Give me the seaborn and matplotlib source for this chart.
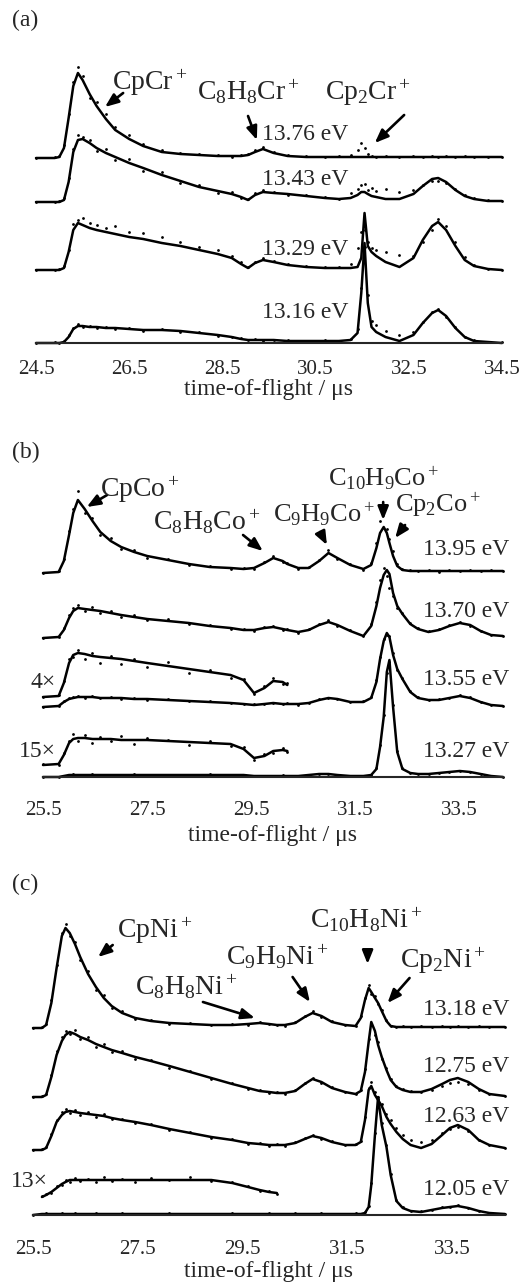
import numpy as np
import pandas as pd
import matplotlib
matplotlib.use("Agg")
import matplotlib.pyplot as plt
import seaborn as sns

W, H = 526, 1283

# ---------------------------------
# DATA: time-of-flight knots (us) and ion signal heights (arb. units)
# ---------------------------------
# panel (a) Cr
ta = [24.5, 24.9, 25.0, 25.1, 25.2, 25.3, 25.4, 25.5, 25.65, 25.8,
      26.0, 26.2, 26.5, 26.8, 27.2, 27.6, 28.0, 28.4, 28.7, 28.9,
      29.05, 29.2, 29.37, 29.6, 29.9, 30.3, 30.7, 31.0, 31.25, 31.4,
      31.48, 31.55, 31.62, 31.7, 31.8, 32.0, 32.3, 32.6, 32.8, 33.0,
      33.13, 33.3, 33.5, 33.7, 33.9, 34.2, 34.5]
fit_a1376 = [0, 0, 1, 10, 40, 72, 85, 78, 64, 52,
             39, 28, 19, 12, 6, 4, 3, 2, 2, 2,
             3, 6, 9, 5, 2, 1, 1, 1, 1, 1,
             1, 1, 1, 1, 1, 1, 1, 1, 1, 1,
             1, 1, 1, 1, 1, 1, 1]
obs_a1376 = [0, 1, 2, 13, 44, 76, 91, 82, 60, 56,
             44, 31, 23, 14, 8, 5, 4, 3, 1, 3,
             4, 8, 11, 6, 3, 2, 1, 2, 3, 8,
             15, 10, 4, 2, 1, 2, 1, 2, 1, 2,
             1, 2, 1, 2, 1, 1, 1]
fit_a1343 = [0, 0, 0, 2, 20, 50, 62, 63, 59, 54,
             49, 45, 39, 34, 27, 21, 15, 11, 8, 5,
             2, 7, 10, 9, 8, 6, 4, 3, 4, 7,
             10, 10, 8, 6, 5, 3, 3, 8, 16, 23,
             24, 20, 12, 6, 3, 1, 1]
obs_a1343 = [0, 0, 1, 4, 24, 53, 67, 65, 62, 51,
             53, 42, 43, 31, 30, 19, 17, 9, 10, 4,
             3, 9, 12, 10, 7, 7, 5, 3, 9, 13,
             17, 18, 12, 14, 11, 13, 10, 12, 17, 21,
             21, 19, 13, 7, 4, 2, 1]
fit_a1329 = [0, 0, 0, 2, 18, 40, 47, 45, 42, 40,
             38, 36, 33, 31, 27, 24, 20, 16, 12, 6,
             2, 7, 10, 8, 5, 3, 2, 2, 2, 3,
             12, 57, 24, 18, 14, 8, 3, 12, 30, 44,
             48, 40, 24, 10, 4, 1, 0]
obs_a1329 = [0, 0, 1, 4, 20, 46, 50, 52, 47, 45,
             42, 44, 38, 37, 33, 28, 23, 20, 14, 8,
             3, 8, 12, 9, 6, 4, 3, 3, 6, 22,
             38, 40, 28, 22, 20, 18, 15, 14, 28, 40,
             51, 44, 28, 13, 5, 1, 0]
fit_a1316 = [0, 0, 0, 1, 6, 14, 17, 17, 16, 16,
             15, 15, 14, 13, 13, 12, 10, 8, 6, 4,
             3, 3, 3, 3, 2, 2, 2, 2, 3, 10,
             50, 100, 40, 16, 11, 6, 2, 8, 20, 30,
             33, 27, 15, 6, 2, 1, 0]
obs_a1316 = [0, 1, 0, 2, 8, 15, 19, 16, 17, 15,
             16, 14, 15, 12, 14, 11, 11, 7, 6, 5,
             3, 4, 2, 3, 3, 2, 3, 2, 4, 14,
             55, 96, 48, 22, 18, 12, 8, 11, 21, 31,
             34, 26, 16, 6, 3, 1, 1]

# panel (b) Co
tb = [25.5, 25.8, 25.9, 26.0, 26.08, 26.17, 26.3, 26.45, 26.6, 26.8,
      27.0, 27.25, 27.5, 27.9, 28.3, 28.7, 29.1, 29.35, 29.55, 29.75,
      29.92, 30.1, 30.19, 30.4, 30.6, 30.8, 30.98, 31.15, 31.4, 31.65,
      31.8, 31.9, 31.97, 32.04, 32.1, 32.15, 32.22, 32.3, 32.4, 32.55,
      32.7, 32.9, 33.1, 33.3, 33.5, 33.7, 33.9, 34.1, 34.33]
fit_b1395 = [0, 1, 12, 38, 60, 73, 64, 52, 41, 32,
             26, 21, 17, 13, 9, 6, 5, 4, 5, 10,
             15, 12, 9, 5, 5, 12, 20, 15, 8, 4,
             8, 25, 40, 46, 40, 30, 17, 7, 3, 2,
             2, 2, 2, 2, 2, 2, 2, 2, 2]
obs_b1395 = [0, 2, 14, 42, 64, 82, 60, 55, 38, 35,
             24, 23, 15, 14, 8, 7, 4, 5, 4, 11,
             17, 11, 10, 4, 6, 13, 23, 14, 9, 3,
             10, 30, 52, 63, 44, 34, 22, 9, 4, 3,
             2, 3, 1, 3, 2, 3, 2, 3, 2]
fit_b1370 = [0, 1, 8, 20, 27, 30, 29, 28, 27, 25,
             23, 21, 19, 17, 15, 12, 10, 8, 8, 10,
             11, 9, 8, 6, 8, 13, 16, 13, 7, 2,
             12, 32, 50, 63, 68, 64, 45, 32, 24, 14,
             9, 6, 8, 12, 15, 13, 7, 3, 2]
obs_b1370 = [0, 1, 10, 23, 30, 33, 27, 31, 25, 27,
             21, 23, 18, 19, 14, 13, 9, 9, 7, 11,
             12, 8, 9, 5, 9, 14, 18, 12, 8, 2,
             14, 36, 58, 70, 62, 50, 42, 30, 25, 15,
             10, 7, 9, 13, 16, 12, 7, 3, 2]
fit_b1355 = [0, 1, 5, 8, 9, 10, 10, 10, 9, 9,
             9, 8, 8, 7, 6, 5, 4, 3, 2, 3,
             4, 3, 3, 3, 4, 7, 9, 8, 5, 5,
             9, 25, 48, 66, 74, 70, 52, 38, 28, 15,
             9, 7, 7, 9, 11, 9, 5, 2, 1]
obs_b1355 = [0, 1, 6, 9, 10, 11, 9, 11, 9, 10,
             8, 9, 7, 8, 6, 6, 4, 3, 3, 3,
             4, 3, 4, 2, 4, 8, 9, 8, 5, 6,
             10, 27, 50, 68, 72, 71, 54, 37, 29, 16,
             10, 7, 8, 9, 12, 10, 5, 2, 1]
fit_b1327 = [0, 0, 1, 2, 2, 2, 2, 2, 2, 2,
             2, 2, 2, 2, 2, 2, 2, 2, 1, 1,
             1, 1, 1, 1, 2, 3, 3, 2, 1, 1,
             2, 8, 30, 60, 105, 117, 70, 25, 8, 4,
             3, 3, 4, 5, 6, 5, 3, 1, 0]
obs_b1327 = [0, 0, 1, 2, 3, 2, 2, 3, 2, 2,
             2, 3, 2, 2, 2, 3, 2, 2, 1, 1,
             1, 2, 1, 1, 2, 3, 3, 2, 1, 1,
             2, 9, 32, 62, 104, 115, 72, 26, 9, 4,
             3, 3, 4, 5, 6, 5, 3, 1, 0]
# magnified low-mass parts (first 23 knots of tb)
fit_b4x = [0, 1, 14, 34, 42, 44, 43, 41, 40, 39,
           38, 36, 34, 31, 28, 25, 22, 17, 4, 9,
           16, 15, 12]
obs_b4x = [0, 2, 16, 38, 40, 47, 38, 44, 34, 41,
           33, 38, 30, 35, 24, 27, 19, 18, 3, 11,
           19, 13, 14]
fit_b15x = [0, 1, 10, 22, 26, 27, 27, 26, 26, 26,
            25, 25, 25, 24, 23, 22, 21, 16, 7, 9,
            14, 15, 14]
obs_b15x = [1, 0, 12, 24, 31, 24, 30, 22, 28, 24,
            29, 21, 27, 25, 20, 24, 19, 18, 5, 11,
            12, 17, 13]

# panel (c) Ni
tc = [25.5, 25.67, 25.75, 25.85, 25.95, 26.05, 26.12, 26.2, 26.3, 26.4,
      26.55, 26.7, 26.85, 27.0, 27.2, 27.45, 27.75, 28.1, 28.5, 28.9,
      29.3, 29.6, 29.82, 30.0, 30.15, 30.3, 30.5, 30.68, 30.83, 31.0,
      31.2, 31.45, 31.65, 31.75, 31.83, 31.9, 31.95, 32.02, 32.08, 32.15,
      32.24, 32.32, 32.43, 32.55, 32.7, 32.9, 33.1, 33.3, 33.45, 33.6,
      33.8, 34.0, 34.2, 34.5]
fit_c1318 = [0, 0, 3, 25, 60, 92, 100, 95, 84, 71,
             54, 41, 30, 22, 15, 10, 7, 5, 4, 3,
             3, 4, 5, 4, 3, 3, 5, 11, 15, 12,
             6, 3, 2, 10, 28, 40, 36, 30, 25, 17,
             7, 2, 1, 1, 1, 1, 1, 1, 1, 1,
             1, 1, 1, 1]
obs_c1318 = [0, 1, 4, 28, 63, 95, 104, 92, 86, 68,
             57, 38, 33, 20, 17, 9, 8, 4, 5, 3,
             4, 3, 6, 4, 3, 2, 6, 12, 17, 11,
             7, 3, 2, 12, 30, 43, 34, 32, 24, 18,
             8, 2, 1, 2, 1, 2, 1, 2, 1, 2,
             1, 2, 1, 1]
fit_c1275 = [0, 0, 2, 20, 42, 56, 62, 65, 63, 60,
             57, 53, 50, 47, 44, 40, 36, 31, 25, 19,
             13, 9, 6, 5, 4, 4, 6, 13, 18, 15,
             9, 5, 3, 6, 25, 55, 75, 66, 52, 40,
             27, 17, 10, 7, 5, 5, 8, 13, 17, 19,
             15, 8, 3, 1]
obs_c1275 = [0, 1, 3, 22, 46, 60, 66, 63, 67, 58,
             60, 50, 53, 45, 46, 38, 37, 29, 26, 18,
             14, 8, 7, 4, 5, 3, 7, 14, 19, 14,
             10, 5, 3, 7, 28, 58, 73, 62, 55, 38,
             29, 18, 11, 8, 6, 5, 7, 11, 14, 15,
             13, 7, 3, 1]
fit_c1263 = [0, 0, 2, 14, 28, 35, 38, 39, 38, 37,
             36, 35, 34, 32, 30, 28, 25, 21, 17, 13,
             10, 7, 6, 5, 5, 5, 7, 11, 14, 12,
             8, 5, 5, 8, 30, 60, 64, 55, 50, 44,
             33, 26, 18, 11, 5, 2, 6, 15, 22, 25,
             20, 10, 5, 2]
obs_c1263 = [0, 1, 3, 16, 30, 38, 41, 37, 40, 35,
             38, 33, 36, 31, 31, 27, 26, 20, 18, 12,
             11, 6, 7, 4, 6, 4, 8, 12, 15, 11,
             9, 5, 6, 9, 33, 62, 68, 58, 53, 46,
             36, 30, 22, 15, 10, 8, 10, 17, 21, 23,
             19, 10, 5, 2]
fit_c1205 = [0, 1, 1, 1, 1, 1, 1, 1, 1, 1,
             1, 1, 1, 1, 1, 1, 1, 1, 1, 1,
             1, 1, 1, 1, 1, 1, 1, 1, 1, 1,
             1, 1, 1, 1, 2, 8, 30, 80, 118, 90,
             68, 40, 14, 7, 4, 3, 5, 7, 8, 9,
             7, 4, 2, 1]
obs_c1205 = [0, 1, 2, 1, 1, 2, 1, 1, 2, 1,
             1, 2, 1, 1, 2, 1, 1, 2, 1, 1,
             2, 1, 1, 2, 1, 1, 2, 1, 1, 2,
             1, 1, 2, 1, 3, 9, 32, 82, 116, 92,
             70, 41, 15, 8, 4, 4, 5, 8, 8, 10,
             7, 4, 2, 1]
# magnified part, knots tc[1:25]
fit_c13x = [0, 2, 5, 9, 13, 15, 17, 17, 17, 17,
            17, 17, 17, 17, 17, 17, 17, 17, 17, 14,
            10, 7, 5, 4]
obs_c13x = [1, 3, 4, 11, 12, 17, 15, 19, 16, 18,
            15, 20, 16, 18, 15, 19, 17, 20, 16, 15,
            11, 6, 6, 3]

# ---------------------------------
# LAYOUT (pixel based)
# ---------------------------------
sns.set_style("white")
plt.rcParams['font.family'] = ['Liberation Serif', 'DejaVu Serif']
plt.rcParams['mathtext.fontset'] = 'custom'
plt.rcParams['mathtext.rm'] = 'Liberation Serif'
plt.rcParams['mathtext.it'] = 'Liberation Serif:italic'
plt.rcParams['mathtext.default'] = 'regular'

fig = plt.figure(figsize=(W / 100, H / 100), dpi=100)


def box(left, right, top, bottom):
    return [left / W, 1 - bottom / H, (right - left) / W, (bottom - top) / H]


def ftext(x, y, s, size=17, ha='left'):
    fig.text(x / W, 1 - y / H, s, fontsize=size, ha=ha, va='baseline')


def arrow(ax, tail, tip):
    ax.annotate('', xy=tip, xytext=tail, annotation_clip=False,
                arrowprops=dict(arrowstyle='-|>,head_length=0.8,head_width=0.32',
                                color='k', lw=1.9, mutation_scale=10,
                                shrinkA=0, shrinkB=0))


def draw(ax, t, fit, obs, off):
    d = pd.DataFrame({'tof': t, 'fit': np.array(fit) + off,
                      'obs': np.array(obs) + off})
    sns.scatterplot(data=d, x='tof', y='obs', ax=ax, s=4, color='k',
                    linewidth=0, legend=False)
    sns.lineplot(data=d, x='tof', y='fit', ax=ax, color='k', lw=1.8,
                 estimator=None, sort=False)


def setup(ax, xlim, ticks, height, pad, ylab):
    ax.set_xlim(*xlim)
    ax.set_ylim(0, height)
    ax.set_xticks(ticks)
    ax.set_xticklabels([f"{v:.1f}" for v in ticks], fontsize=15)
    ax.set_yticks([])
    ax.set_ylabel('')
    for s in ['left', 'right', 'top']:
        ax.spines[s].set_visible(False)
    ax.spines['bottom'].set_linewidth(1.5)
    ax.tick_params(axis='x', direction='out', length=5, width=1.3, pad=pad)
    ax.set_xlabel('time-of-flight / μs', fontsize=17, va='center')
    ax.xaxis.set_label_coords(0.5, -ylab / height)
    for ln in ax.lines:
        ln.set_clip_on(False)
    for c in ax.collections:
        c.set_clip_on(False)


# ---------------- panel (a) ----------------
axa = fig.add_axes(box(36, 502, 40, 343))
draw(axa, ta, fit_a1376, obs_a1376, 185)
draw(axa, ta, fit_a1343, obs_a1343, 141)
draw(axa, ta, fit_a1329, obs_a1329, 73)
draw(axa, ta, fit_a1316, obs_a1316, 0)
setup(axa, (24.5, 34.5), [24.5, 26.5, 28.5, 30.5, 32.5, 34.5], 303, 7, 47)
arrow(axa, (26.37, 250), (25.98, 236))
arrow(axa, (29.05, 227), (29.24, 203))
arrow(axa, (32.40, 228), (31.77, 200))
ftext(12, 26, '(a)')
ftext(112, 90, 'CpCr$^+$', 20)
ftext(197, 100, 'C$_8$H$_8$Cr$^+$', 20)
ftext(325, 100, 'Cp$_2$Cr$^+$', 20)
for lab, yb in [('13.76 eV', 140), ('13.43 eV', 185), ('13.29 eV', 255), ('13.16 eV', 318)]:
    ftext(262, yb, lab)

# ---------------- panel (b) ----------------
axb = fig.add_axes(box(43, 503, 470, 777))
draw(axb, tb, fit_b1395, obs_b1395, 204)
draw(axb, tb, fit_b1370, obs_b1370, 139)
draw(axb, tb[:23], fit_b4x, obs_b4x, 80)
draw(axb, tb, fit_b1355, obs_b1355, 70)
draw(axb, tb[:23], fit_b15x, obs_b15x, 12)
draw(axb, tb, fit_b1327, obs_b1327, 0)
setup(axb, (25.5, 34.33), [25.5, 27.5, 29.5, 31.5, 33.5], 307, 12, 59)
arrow(axb, (26.73, 282), (26.34, 270))
arrow(axb, (29.34, 242), (29.72, 226))
arrow(axb, (30.82, 245), (30.95, 232))
arrow(axb, (32.03, 275), (32.03, 257))
arrow(axb, (32.45, 252), (32.26, 239))
ftext(12, 458, '(b)')
ftext(100, 497, 'CpCo$^+$', 20)
ftext(153, 530, 'C$_8$H$_8$Co$^+$', 20)
ftext(273, 522, 'C$_9$H$_9$Co$^+$', 19)
ftext(328, 486, 'C$_{10}$H$_9$Co$^+$', 19)
ftext(395, 512, 'Cp$_2$Co$^+$', 19)
for lab, yb in [('13.95 eV', 555), ('13.70 eV', 617), ('13.55 eV', 685), ('13.27 eV', 757)]:
    ftext(509, yb, lab, ha='right')
ftext(56, 688, '4×', ha='right')
ftext(56, 757, '15×', ha='right')

# ---------------- panel (c) ----------------
axc = fig.add_axes(box(33, 505, 900, 1215))
draw(axc, tc, fit_c1318, obs_c1318, 187)
draw(axc, tc, fit_c1275, obs_c1275, 118)
draw(axc, tc, fit_c1263, obs_c1263, 65)
draw(axc, tc[1:25], fit_c13x, obs_c13x, 18)
draw(axc, tc, fit_c1205, obs_c1205, 0)
setup(axc, (25.5, 34.5), [25.5, 27.5, 29.5, 31.5, 33.5], 315, 13, 56)
arrow(axc, (27.02, 270), (26.74, 258))
arrow(axc, (31.88, 263), (31.88, 251))
arrow(axc, (30.45, 238), (30.78, 213))
arrow(axc, (32.68, 237), (32.26, 212))
arrow(axc, (28.74, 213), (29.73, 197))
ftext(12, 890, '(c)')
ftext(117, 938, 'CpNi$^+$', 20)
ftext(310, 928, 'C$_{10}$H$_8$Ni$^+$', 20)
ftext(226, 965, 'C$_9$H$_9$Ni$^+$', 20)
ftext(400, 968, 'Cp$_2$Ni$^+$', 20)
ftext(135, 995, 'C$_8$H$_8$Ni$^+$', 20)
for lab, yb in [('13.18 eV', 1015), ('12.75 eV', 1072), ('12.63 eV', 1122), ('12.05 eV', 1195)]:
    ftext(509, yb, lab, ha='right')
ftext(48, 1187, '13×', ha='right')

fig.savefig("out.png", dpi=100, facecolor='white')
plt.close(fig)
